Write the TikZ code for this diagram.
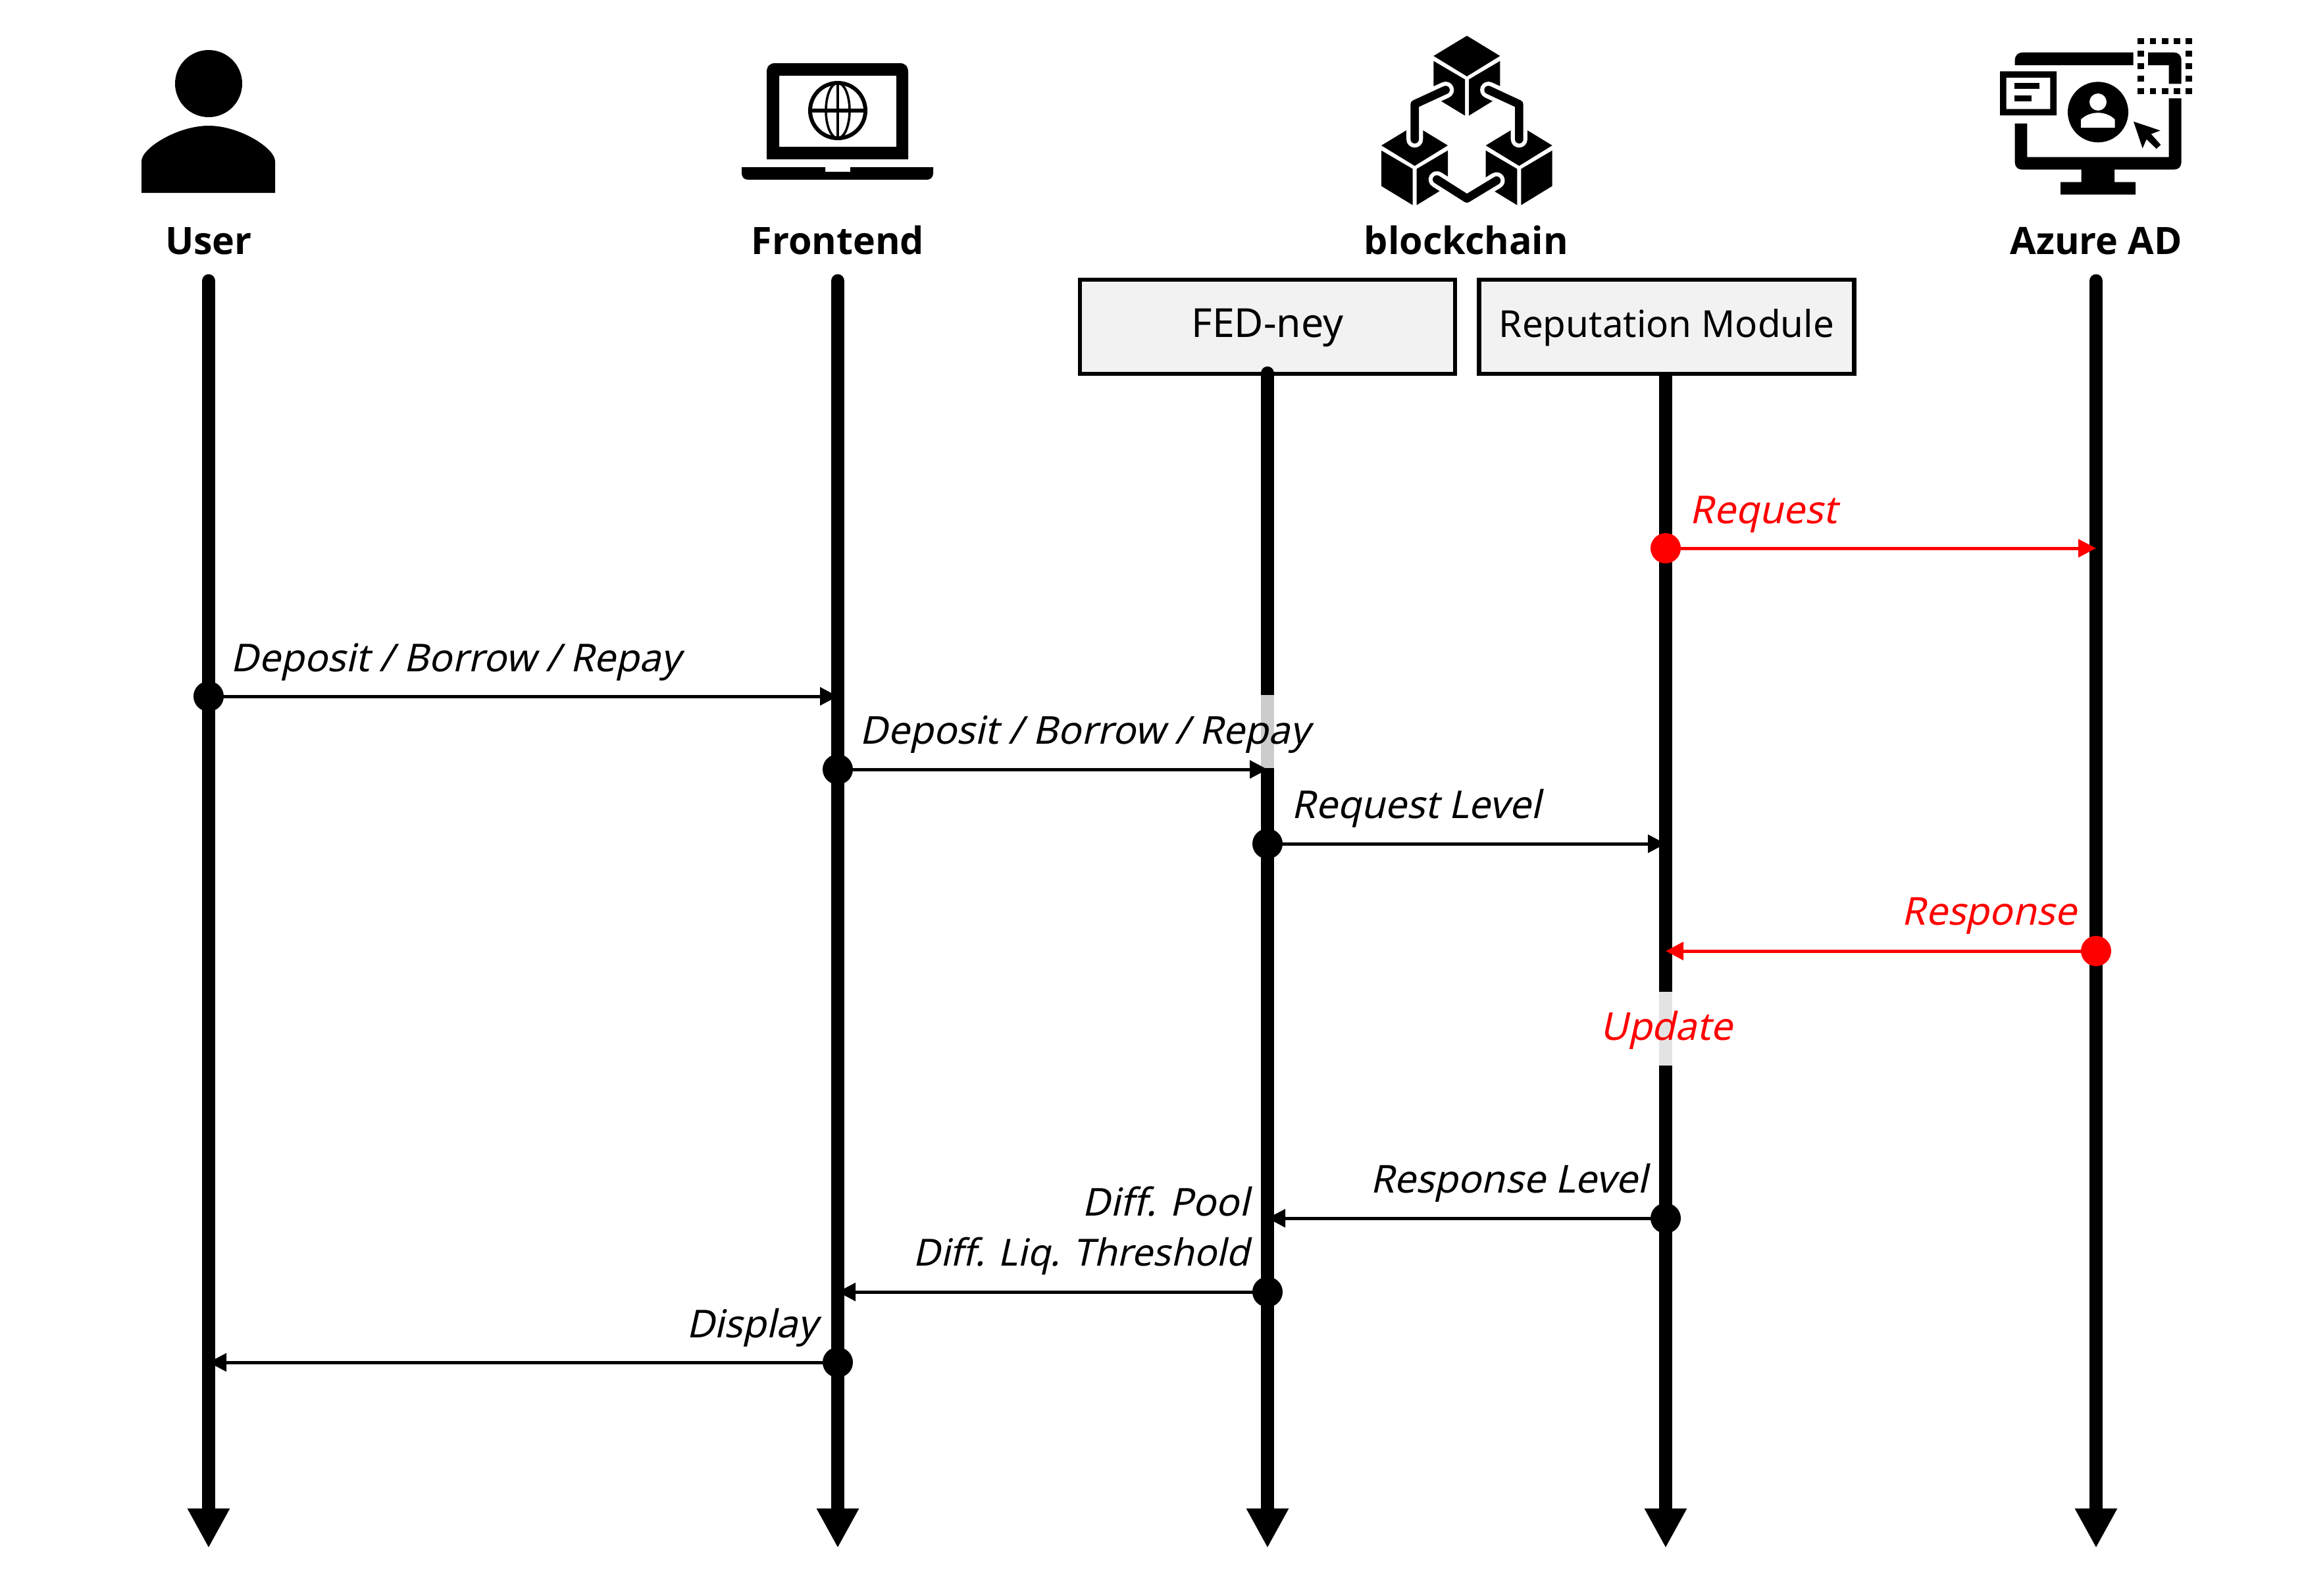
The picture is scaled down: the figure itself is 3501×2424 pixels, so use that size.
\documentclass[tikz,border=0pt]{standalone}
\usepackage{fontspec}
\setmainfont{Noto Sans}
\newfontfamily\actorfont{Open Sans}
\usetikzlibrary{arrows.meta}
\definecolor{boxfill}{HTML}{F2F2F2}
\definecolor{fade}{HTML}{CCCCCC}
\definecolor{fadelight}{HTML}{E3E3E3}
\definecolor{alert}{HTML}{FF0000}
\pgfdeclarelayer{under}
\pgfsetlayers{under,main}
\tikzset{
  lifeline/.style={line width=5.2pt,line cap=round,-{Triangle[length=15pt,width=15pt]}},
  fadeseg/.style={line width=5.2pt},
  msg/.style={line width=1.25pt,shorten <=-1.5pt,-{Triangle[length=6.75pt,width=6.75pt]}},
  dot/.style={circle,fill=black,draw=none,minimum size=11.5pt,inner sep=0pt,outer sep=0pt},
  reddot/.style={dot,fill=alert},
  redmsg/.style={msg,alert},
  actor/.style={font=\fontsize{14.35}{18}\selectfont\actorfont\bfseries,inner sep=0pt,anchor=base},
  msgtxt/.style={font=\fontsize{14.6}{18}\selectfont\addfontfeatures{FakeSlant=0.22},inner sep=0pt},
  module/.style={draw=black,line width=1.6pt,fill=boxfill,minimum width=142.5pt,minimum height=35.75pt,inner sep=0pt,text height=8.2pt,text depth=0pt},
  halo/.style={white,line width=6.3pt,line cap=round,line join=round},
  linkline/.style={black,line width=3.17pt,line cap=round,line join=round},
  iconscope/.style={x=0.083333pt,y=-0.083333pt}
}
\begin{document}
\begin{tikzpicture}[x=0.25pt,y=-0.25pt]
\useasboundingbox (0,0) rectangle (3501,2424);

% ---- icons ----
% user
\fill (317,127) circle (51);
\fill (215,293) -- (215,245) .. controls (215,225) and (270,191) .. (317,191) .. controls (364,191) and (418,225) .. (418,245) -- (418,293) -- cycle;
% laptop
\fill[even odd rule] (1165,242) -- (1165,110) .. controls (1165,100) and (1170,96) .. (1178,96) -- (1367,96) .. controls (1375,96) and (1380,100) .. (1380,110) -- (1380,242) -- cycle (1184,115) rectangle (1362,223);
\draw[line width=1.5pt] (1273,168) circle (42);
\draw[line width=0.9pt] (1273,168) ellipse (18 and 42);
\draw[line width=0.9pt] (1273,126) -- (1273,210);
\draw[line width=1.5pt] (1231,168) -- (1315,168);
\fill (1127,254) -- (1254,254) -- (1254,261) -- (1292,261) -- (1292,254) -- (1418,254) -- (1418,262) .. controls (1418,270) and (1414,273) .. (1408,273) -- (1137,273) .. controls (1131,273) and (1127,270) .. (1127,262) -- cycle;
% blockchain
\begin{scope}[shift={(2050,30)},iconscope]
  \foreach \dx/\dy in {0/0,-238/408,238/408}{
    \begin{scope}[shift={(\dx,\dy)}]
      \fill (537,73) -- (688,165) -- (537,258) -- (385,165) -- cycle;
      \fill (385,188) -- (528,272) -- (528,437) -- (385,350) -- cycle;
      \fill (546,272) -- (688,188) -- (688,350) -- (546,437) -- cycle;
    \end{scope}
  }
  \draw[halo] (440,320) -- (299,385) -- (299,545);
  \draw[halo] (635,320) -- (775,385) -- (775,545);
  \draw[halo] (400,728) -- (537,815) -- (672,733);
  \draw[linkline] (440,320) -- (299,385) -- (299,545);
  \draw[linkline] (635,320) -- (775,385) -- (775,545);
  \draw[linkline] (400,728) -- (537,815) -- (672,733);
\end{scope}
% azure
\begin{scope}[shift={(3000,30)},iconscope]
  \fill (185,207) -- (185,185) .. controls (185,162) and (200,149) .. (220,149) -- (725,149) -- (725,207) -- cycle;
  \fill (792,149) -- (910,149) .. controls (930,149) and (944,162) .. (944,185) -- (944,292) -- (887,292) -- (887,207) -- (792,207) -- cycle;
  \fill (887,358) -- (944,358) -- (944,650) .. controls (944,670) and (930,683) .. (910,683) -- (639,683) -- (639,740) -- (735,740) -- (735,797) -- (393,797) -- (393,740) -- (488,740) -- (488,683) -- (218,683) .. controls (198,683) and (185,670) .. (185,650) -- (185,473) -- (241,473) -- (241,626) -- (887,626) -- cycle;
  \foreach \sx in {759,814,869,924,978}{
    \fill (\sx-14.5,97-14.5) rectangle +(29,29);
    \fill (\sx-14.5,325-14.5) rectangle +(29,29);
  }
  \foreach \sy in {154,211,268}{
    \fill (759-14.5,\sy-14.5) rectangle +(29,29);
    \fill (978-14.5,\sy-14.5) rectangle +(29,29);
  }
  \fill[even odd rule] (117,235) rectangle (375,436) (146,264) rectangle (346,407);
  \fill (184,288) rectangle (298,316);
  \fill (184,345) rectangle (260,373);
  \fill (564,421) circle (138);
  \fill[white] (564,375) circle (39);
  \fill[white] (486,492) -- (486,455) .. controls (505,435) and (535,424) .. (564,424) .. controls (593,424) and (622,435) .. (641,455) -- (641,492) -- cycle;
  \fill (726,464) -- (848,505) -- (806,521) -- (850,570) -- (830,588) -- (785,545) -- (767,586) -- cycle;
\end{scope}

% ---- actor labels ----
\node[actor] (luser) at (317,386) {User};
\node[actor] (lfront) at (1273,386) {Frontend};
\node[actor] (lchain) at (2228,386) {blockchain};
\node[actor] (lazure) at (3185,386) {Azure AD};

% ---- lifelines ----
\coordinate (utop) at (317,427);   \coordinate (ubot) at (317,2352);
\coordinate (ftop) at (1273,427);  \coordinate (fbot) at (1273,2352);
\coordinate (atop) at (3185,427);  \coordinate (abot) at (3185,2352);
\coordinate (nbot) at (1926,2352); \coordinate (rbot) at (2531,2352);
\node[module,font=\fontsize{15.2}{18}\selectfont] (fed) at (1926,496.5) {FED-ney};
\node[module,font=\fontsize{14.13}{18}\selectfont] (rep) at (2532.5,496.5) {Reputation Module};
\draw[lifeline] (utop) -- (ubot);
\draw[lifeline] (ftop) -- (fbot);
\draw[lifeline] (atop) -- (abot);
\draw[lifeline,shorten <=-1pt] (fed.south) -- (nbot);
\begin{pgfonlayer}{under}
\draw[lifeline] (rbot |- rep.south) -- (rbot);
\end{pgfonlayer}

% faded segments
\coordinate (g1a) at (1926,1056); \coordinate (g1b) at (1926,1167);
\coordinate (g2a) at (2531,1507); \coordinate (g2b) at (2531,1619);
\draw[fadeseg,fade] (g1a) -- (g1b);
\draw[fadeseg,fadelight] (g2a) -- (g2b);

% ---- messages ----
\coordinate (e1) at (3185,833);
\coordinate (e2) at (1273,1058);
\coordinate (e3) at (1926,1169);
\coordinate (e4) at (2531,1282);
\coordinate (e5) at (2531,1445);
\coordinate (e6) at (1926,1851);
\coordinate (e7) at (1273,1963);
\coordinate (e8) at (317,2070);
\node[reddot] (d1) at (2531,833) {};
\node[dot] (d2) at (317,1058) {};
\node[dot] (d3) at (1273,1169) {};
\node[dot] (d4) at (1926,1282) {};
\node[reddot] (d5) at (3185,1445) {};
\node[dot] (d6) at (2531,1851) {};
\node[dot] (d7) at (1926,1963) {};
\node[dot] (d8) at (1273,2070) {};
\draw[redmsg] (d1) -- (e1);
\draw[msg] (d2) -- (e2);
\draw[msg] (d3) -- (e3);
\draw[msg] (d4) -- (e4);
\draw[redmsg] (d5) -- (e5);
\draw[msg] (d6) -- (e6);
\draw[msg] (d7) -- (e7);
\draw[msg] (d8) -- (e8);

% ---- message labels ----
\node[msgtxt,anchor=base west,text=alert] (t1) at (2567,795) {Request};
\node[msgtxt,anchor=base west] (t2) at (350,1020) {Deposit / Borrow / Repay};
\node[msgtxt,anchor=base west] (t3) at (1306,1130) {Deposit / Borrow / Repay};
\node[msgtxt,anchor=base west] (t4) at (1962,1243) {Request Level};
\node[msgtxt,anchor=base east,text=alert] (t5) at (3156,1405) {Response};
\node[msgtxt,anchor=base,text=alert] (t6) at (2532,1580) {Update};
\node[msgtxt,anchor=base east] (t7) at (2504,1812) {Response Level};
\node[msgtxt,anchor=base east] (t8) at (1899,1847) {Diff. Pool};
\node[msgtxt,anchor=base east,font=\fontsize{14.2}{18}\selectfont\addfontfeatures{FakeSlant=0.22}] (t9) at (1899,1923) {Diff. Liq. Threshold};
\node[msgtxt,anchor=base east] (t10) at (1243,2032) {Display};
\end{tikzpicture}
\end{document}
